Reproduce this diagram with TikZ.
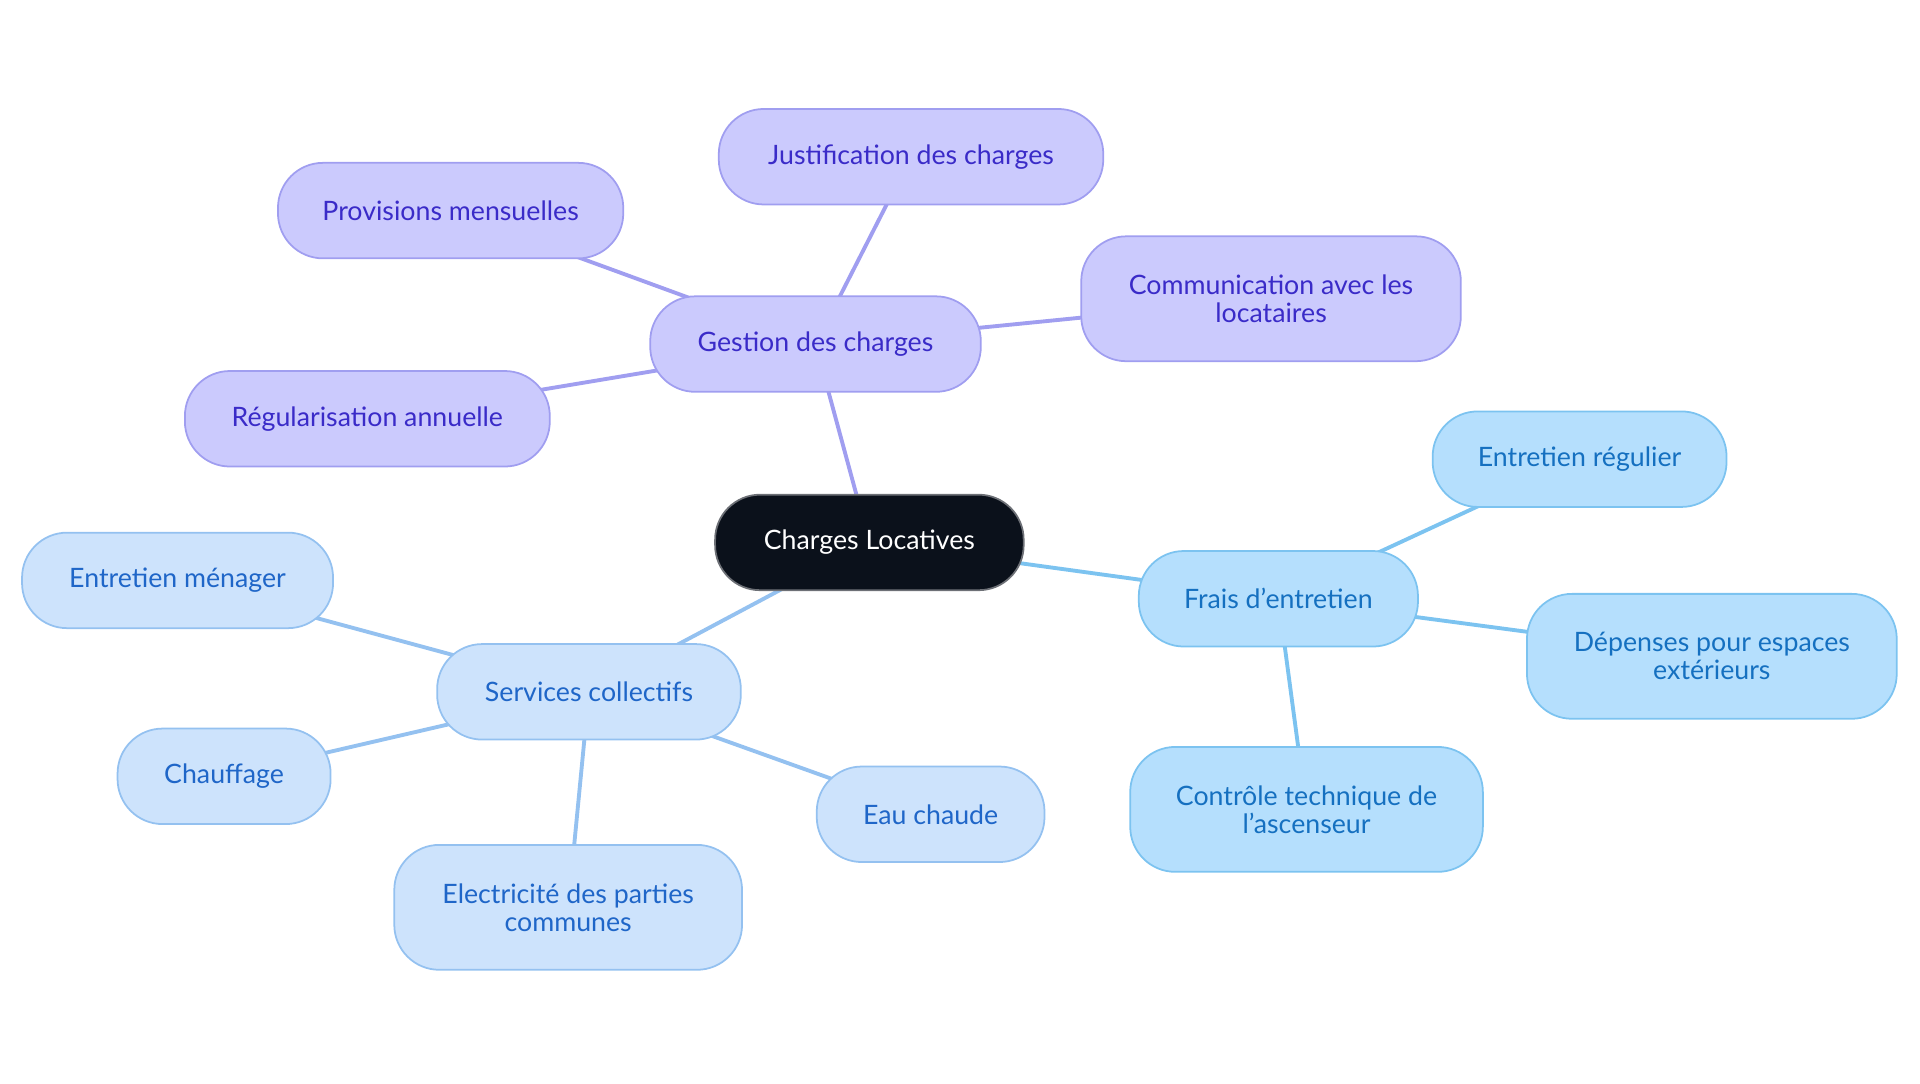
\documentclass[tikz,border=0pt]{standalone}
\usepackage{fontspec}
\setmainfont{Lato}
\usetikzlibrary{backgrounds}
\definecolor{rootfill}{HTML}{0B111B}
\definecolor{gfill}{HTML}{CBCAFD}\definecolor{gline}{HTML}{A09EF0}\definecolor{gtext}{HTML}{3A2BC8}
\definecolor{ffill}{HTML}{B5DFFD}\definecolor{fline}{HTML}{7CC3F0}\definecolor{ftext}{HTML}{1570C0}
\definecolor{sfill}{HTML}{CDE3FC}\definecolor{sline}{HTML}{94C1F0}\definecolor{stext}{HTML}{1F66C8}
\tikzset{
  box/.style={draw,rounded corners=0.45cm,align=center,inner sep=0pt,
    font=\fontsize{7.6}{8}\selectfont,line width=0.5pt},
  root/.style={box,fill=rootfill,draw=rootfill!60,text=white},
  gbox/.style={box,fill=gfill,draw=gline,text=gtext},
  fbox/.style={box,fill=ffill,draw=fline,text=ftext},
  sbox/.style={box,fill=sfill,draw=sline,text=stext},
  link/.style={line width=1.1pt}
}
\begin{document}
\begin{tikzpicture}[x=0.012245cm,y=-0.012245cm]
  \useasboundingbox (0,0) rectangle (1568,884.5);
  % centre
  \node[root,minimum width=252*0.012245cm,minimum height=78*0.012245cm] (cl) at (710,443) {Charges Locatives};
  % gestion
  \node[gbox,minimum width=270*0.012245cm,minimum height=78*0.012245cm] (gc) at (666,281) {Gestion des charges};
  \node[gbox,minimum width=314*0.012245cm,minimum height=78*0.012245cm] (jc) at (744,128) {Justification des charges};
  \node[gbox,minimum width=282*0.012245cm,minimum height=78*0.012245cm] (pm) at (368,172) {Provisions mensuelles};
  \node[gbox,minimum width=310*0.012245cm,minimum height=102*0.012245cm] (co) at (1038,244) {Communication avec les\\locataires};
  \node[gbox,minimum width=298*0.012245cm,minimum height=78*0.012245cm] (ra) at (300,342) {Régularisation annuelle};
  % entretien
  \node[fbox,minimum width=228*0.012245cm,minimum height=78*0.012245cm] (fe) at (1044,489) {Frais d'entretien};
  \node[fbox,minimum width=240*0.012245cm,minimum height=78*0.012245cm] (er) at (1290,375) {Entretien régulier};
  \node[fbox,minimum width=302*0.012245cm,minimum height=102*0.012245cm] (de) at (1398,536) {Dépenses pour espaces\\extérieurs};
  \node[fbox,minimum width=288*0.012245cm,minimum height=102*0.012245cm] (ct) at (1067,661) {Contrôle technique de\\l'ascenseur};
  % services
  \node[sbox,minimum width=248*0.012245cm,minimum height=78*0.012245cm] (sc) at (481,565) {Services collectifs};
  \node[sbox,minimum width=254*0.012245cm,minimum height=78*0.012245cm] (em) at (145,474) {Entretien ménager};
  \node[sbox,minimum width=174*0.012245cm,minimum height=78*0.012245cm] (ch) at (183,634) {Chauffage};
  \node[sbox,minimum width=284*0.012245cm,minimum height=102*0.012245cm] (el) at (464,741) {Electricité des parties\\communes};
  \node[sbox,minimum width=186*0.012245cm,minimum height=78*0.012245cm] (ec) at (760,665) {Eau chaude};
  \begin{pgfonlayer}{background}
    \foreach \a/\b in {cl/gc,gc/jc,gc/pm,gc/co,gc/ra}
      \draw[link,gline] (\a.center) -- (\b.center);
    \foreach \a/\b in {cl/fe,fe/er,fe/de,fe/ct}
      \draw[link,fline] (\a.center) -- (\b.center);
    \foreach \a/\b in {cl/sc,sc/em,sc/ch,sc/el,sc/ec}
      \draw[link,sline] (\a.center) -- (\b.center);
  \end{pgfonlayer}
\end{tikzpicture}
\end{document}
